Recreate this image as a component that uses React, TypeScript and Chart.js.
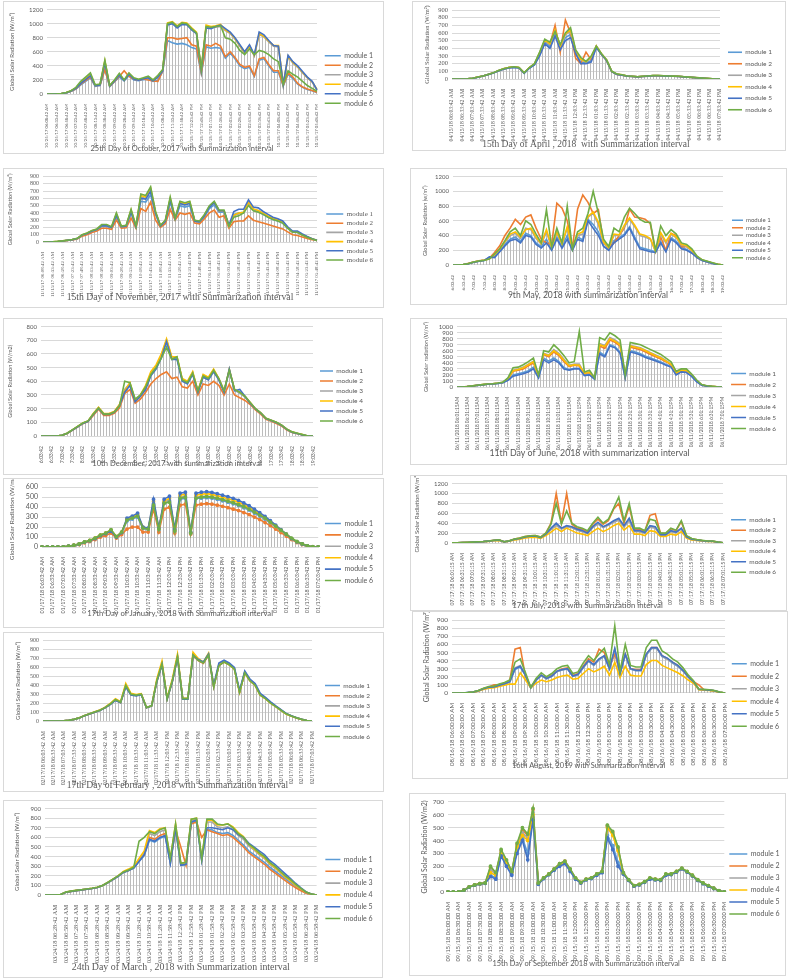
import React, { useEffect, useRef } from "react";
import { Chart, registerables } from "chart.js";
Chart.register(...registerables);

const MODULES = ["module 1", "module 2", "module 3", "module 4", "module 5", "module 6"];
const COLORS = ["#5B9BD5", "#ED7D31", "#A5A5A5", "#FFC000", "#4472C4", "#70AD47"];
const SANS = "Lato, 'Liberation Sans', sans-serif";
const SERIF = "'Liberation Serif', 'DejaVu Serif', serif";

// ---------- tick label times ----------
const times0842 = ["06:08:42 AM","06:33:42 AM","06:58:42 AM","07:23:42 AM","07:48:42 AM","08:13:42 AM","08:38:42 AM","09:03:42 AM","09:28:42 AM","09:53:42 AM","10:18:42 AM","10:43:42 AM","11:08:42 AM","11:33:42 AM","11:58:42 AM","12:23:42 PM","12:48:42 PM","01:13:42 PM","01:38:42 PM","02:03:42 PM","02:28:42 PM","02:53:42 PM","03:18:42 PM","03:43:42 PM","04:08:42 PM","04:33:42 PM","04:58:42 PM","05:23:42 PM","05:48:42 PM"];
const times0342 = ["06:03:42 AM","06:33:42 AM","07:03:42 AM","07:33:42 AM","08:03:42 AM","08:33:42 AM","09:03:42 AM","09:33:42 AM","10:03:42 AM","10:33:42 AM","11:03:42 AM","11:33:42 AM","12:03:42 PM","12:33:42 PM","01:03:42 PM","01:33:42 PM","02:03:42 PM","02:33:42 PM","03:03:42 PM","03:33:42 PM","04:03:42 PM","04:33:42 PM","05:03:42 PM","05:33:42 PM","06:03:42 PM","06:33:42 PM","07:03:42 PM"];
const hTimes = ["6:03:42","6:33:42","7:03:42","7:33:42","8:03:42","8:33:42","9:03:42","9:33:42","10:03:42","10:33:42","11:03:42","11:33:42","12:03:42","12:33:42","13:03:42","13:33:42","14:03:42","14:33:42","15:03:42","15:33:42","16:03:42","16:33:42","17:03:42","17:33:42","18:03:42","18:33:42","19:03:42"];
const junTimes = ["06:01:15AM","06:31:15AM","07:01:15AM","07:31:15AM","08:01:15AM","08:31:15AM","09:01:15AM","09:31:15AM","10:01:15AM","10:31:15AM","11:01:15AM","11:31:15AM","12:01:15PM","12:31:15PM","1:01:15PM","1:31:15PM","2:01:15PM","2:31:15PM","3:01:15PM","3:31:15PM","4:01:15PM","4:31:15PM","5:01:15PM","5:31:15PM","6:01:15PM","6:31:15PM","7:01:15PM"];
const times0115 = ["06:01:15 AM","06:31:15 AM","07:01:15 AM","07:31:15 AM","08:01:15 AM","08:31:15 AM","09:01:15 AM","09:31:15 AM","10:01:15 AM","10:31:15 AM","11:01:15 AM","11:31:15 AM","12:01:15 PM","12:31:15 PM","01:01:15 PM","01:31:15 PM","02:01:15 PM","02:31:15 PM","03:01:15 PM","03:31:15 PM","04:01:15 PM","04:31:15 PM","05:01:15 PM","05:31:15 PM","06:01:15 PM","06:31:15 PM","07:01:15 PM"];
const times0000 = ["06:00:00 AM","06:30:00 AM","07:00:00 AM","07:30:00 AM","08:00:00 AM","08:30:00 AM","09:00:00 AM","09:30:00 AM","10:00:00 AM","10:30:00 AM","11:00:00 AM","11:30:00 AM","12:00:00 PM","12:30:00 PM","01:00:00 PM","01:30:00 PM","02:00:00 PM","02:30:00 PM","03:00:00 PM","03:30:00 PM","04:00:00 PM","04:30:00 PM","05:00:00 PM","05:30:00 PM","06:00:00 PM","06:30:00 PM","07:00:00 PM"];
const times2842 = ["","06:28:42 AM","06:58:42 AM","07:28:42 AM","07:58:42 AM","08:28:42 AM","08:58:42 AM","09:28:42 AM","09:58:42 AM","10:28:42 AM","10:58:42 AM","11:28:42 AM","11:58:42 AM","12:28:42 PM","12:58:42 PM","01:28:42 PM","01:58:42 PM","02:28:42 PM","02:58:42 PM","03:28:42 PM","03:58:42 PM","04:28:42 PM","04:58:42 PM","05:28:42 PM","05:58:42 PM","06:28:42 PM","06:58:42 PM"];
const withDate = (d: string, t: string[]) => t.map((x) => (x ? d + " " + x : ""));

const octTicks = withDate("10/25/17", times0842);
const aprTicks = withDate("04/15/18", times0342);
const novTicks = withDate("11/15/17", times0842);
const mayTicks = hTimes;
const decTicks = hTimes;
const junTicks = withDate("06/11/2018", junTimes);
const janTicks = withDate("01/17/18", times0342);
const julTicks = withDate("07/17/18", times0115);
const febTicks = withDate("02/17/18", times0342);
const augTicks = withDate("08/16/18", times0000);
const marTicks = withDate("03/24/18", times2842);
const sepTicks = withDate("09/15/18", times0000);

// ---------- 25 Oct 2017 ----------
const octM1 = [0,0,2,6,16,38,70,130,180,230,110,120,350,105,175,240,190,260,200,190,205,210,180,190,320,760,730,710,720,700,660,640,290,670,650,660,650,510,580,500,400,360,380,250,480,500,400,310,310,115,280,220,140,95,65,45,20];
const octM2 = [0,0,3,7,18,40,75,140,190,240,120,125,350,110,180,250,330,250,210,195,215,200,185,180,330,800,800,780,790,800,700,680,300,700,680,720,680,530,600,520,420,380,400,260,500,520,420,330,330,120,300,240,150,100,70,50,25];
const octM3 = [0,0,3,7,19,44,82,155,215,270,120,130,460,115,190,275,195,285,215,200,220,235,190,245,335,990,1010,950,1000,990,920,860,340,950,940,950,960,900,860,780,680,580,680,540,850,810,740,680,670,130,530,440,380,300,230,170,55];
const octM4 = [0,0,3,8,20,46,88,165,225,285,125,135,470,118,195,285,195,292,222,205,225,245,195,255,345,1010,1030,970,1020,1010,940,880,360,980,960,970,990,910,870,790,690,590,690,550,860,820,750,690,690,135,540,450,390,310,235,175,65];
const octM5 = [0,0,3,7,18,42,80,150,205,260,118,128,440,112,185,270,190,280,212,198,218,230,188,240,330,980,1000,940,990,985,910,860,340,940,930,960,980,930,880,800,700,600,700,560,880,840,760,690,680,130,550,460,400,320,240,180,60];
const octM6 = [0,0,3,8,22,48,95,180,240,300,130,140,480,120,200,295,200,300,230,210,230,255,200,265,350,1000,1020,960,1010,1000,930,870,350,960,950,960,970,800,780,720,620,560,640,560,620,600,560,500,460,140,330,280,240,180,120,80,40];

// ---------- 15 Apr 2018 ----------
const aprM1 = [0,0,0,3,9,24,39,58,78,107,130,146,155,146,77,143,190,310,480,420,600,400,540,580,340,210,210,240,420,325,245,97,62,52,39,34,29,34,39,44,44,41,39,37,34,29,24,19,14,9,5,0,0];
const aprM2 = [0,0,0,3,10,25,40,60,80,108,132,148,158,148,80,145,195,320,500,450,700,350,770,600,270,200,350,250,430,320,240,95,60,50,38,33,28,33,38,42,42,40,38,36,33,28,23,18,13,8,4,0,0];
const aprM3 = [0,0,0,3,10,24,40,59,79,108,133,148,158,148,78,147,195,330,500,450,630,420,580,620,360,250,220,280,425,328,248,98,63,53,40,35,30,35,40,45,45,42,40,38,35,30,25,20,15,10,5,0,0];
const aprM4 = [0,0,0,3,10,25,40,60,80,109,134,149,159,149,79,148,198,340,510,460,640,430,590,640,370,260,225,290,428,330,250,99,64,54,40,35,30,35,40,45,45,42,40,38,35,30,25,20,15,10,5,0,0];
const aprM5 = [0,0,0,3,9,23,38,57,77,105,128,143,152,143,75,140,185,300,460,400,560,380,500,540,330,200,200,220,410,320,240,95,60,50,38,33,28,33,38,43,43,40,38,36,33,28,23,18,13,8,4,0,0];
const aprM6 = [0,0,0,3,10,25,40,60,80,110,135,150,160,150,80,150,200,350,520,480,620,450,600,670,380,280,230,300,430,330,250,100,65,55,40,35,30,35,40,45,45,42,40,38,35,30,25,20,15,10,5,0,0];

// ---------- 15 Nov 2017 ----------
const novM1 = [0,0,2,7,13,22,31,45,90,112,145,165,215,215,195,350,205,212,400,205,560,550,650,380,215,275,550,310,500,480,500,280,270,345,460,510,410,410,215,380,400,410,520,440,420,380,340,310,290,260,190,135,130,95,65,40,22];
const novM2 = [0,0,2,6,12,20,28,40,80,100,130,150,190,190,175,300,190,195,330,190,460,420,550,300,200,250,450,300,400,380,400,260,250,320,400,440,340,360,190,280,290,290,360,300,280,260,240,220,200,180,140,100,90,70,50,30,20];
const novM3 = [0,0,3,7,14,24,34,48,96,120,152,172,228,228,202,380,212,222,430,212,620,600,720,405,222,290,590,322,540,520,540,292,282,365,485,540,425,425,215,360,390,400,540,450,430,390,350,320,300,270,195,138,135,98,68,42,22];
const novM4 = [0,0,3,8,15,25,35,49,98,122,155,175,232,232,205,390,215,225,440,215,640,620,740,410,225,295,600,325,550,530,550,295,285,370,490,550,430,430,218,370,400,410,550,455,435,395,355,325,305,275,198,140,138,100,70,44,24];
const novM5 = [0,0,3,7,14,23,33,47,95,118,150,170,225,225,200,370,210,220,420,210,600,590,700,400,220,285,580,320,530,510,530,290,280,360,480,540,430,430,230,420,450,450,580,480,470,420,380,340,320,290,210,150,150,110,75,45,25];
const novM6 = [0,0,3,8,15,25,35,50,100,125,160,180,240,240,210,400,220,230,450,220,660,640,760,420,230,300,620,330,560,540,560,300,290,380,500,560,440,440,220,340,360,400,500,430,410,380,340,310,290,260,190,135,135,95,65,42,22];

// ---------- 9 May 2018 ----------
const mayM1 = [0,0,5,19,39,52,62,100,110,190,280,350,380,320,430,400,300,250,350,210,380,250,400,210,380,340,620,550,450,260,210,330,370,420,520,380,240,220,200,175,320,190,370,320,240,210,170,105,62,42,22,6,0];
const mayM2 = [0,0,5,22,42,58,68,90,170,260,400,500,620,550,650,680,500,350,300,280,840,770,600,240,760,950,850,700,750,300,230,300,400,500,760,650,640,620,560,180,380,200,430,400,250,250,200,100,65,45,25,8,0];
const mayM3 = [0,0,5,20,40,54,64,85,130,210,310,400,430,360,500,480,360,280,450,230,430,280,500,215,400,420,650,700,550,300,230,400,400,520,620,520,400,380,350,185,420,300,420,370,270,250,190,110,66,46,25,8,0];
const mayM4 = [0,0,5,20,40,55,65,85,140,215,320,420,450,380,480,500,380,290,480,240,450,290,520,220,420,450,660,720,580,310,235,420,410,540,640,540,420,400,360,190,440,320,430,380,280,260,200,115,68,48,27,9,0];
const mayM5 = [0,0,5,18,38,50,60,110,100,180,260,330,350,300,400,380,280,230,300,200,350,230,350,200,350,320,600,500,400,250,200,300,350,400,500,350,220,200,180,170,300,180,350,300,220,200,160,100,60,40,20,5,0];
const mayM6 = [0,0,5,20,40,55,65,80,150,220,330,450,500,400,600,550,420,300,750,250,500,300,800,220,450,500,700,1000,700,350,250,500,450,650,770,700,620,580,580,200,530,400,480,420,300,280,220,120,70,50,30,10,0];

// ---------- 10 Dec 2017 ----------
const decM1 = [0,0,0,0,5,20,44,68,93,108,160,205,160,160,175,225,330,380,255,295,350,450,500,580,700,570,570,410,390,460,325,440,420,480,415,325,480,335,315,285,240,198,168,128,113,98,78,48,28,18,8,0,0];
const decM2 = [0,0,0,0,5,19,42,66,90,105,150,195,150,150,165,205,310,340,240,270,320,380,420,450,470,420,430,360,350,400,300,380,370,400,370,300,380,300,280,260,230,190,160,122,108,92,72,44,26,16,8,0,0];
const decM3 = [0,0,0,0,5,20,44,69,94,109,162,207,162,162,177,226,340,385,262,298,355,460,510,590,700,575,575,415,395,465,328,445,425,485,418,328,485,338,318,288,243,199,169,129,114,99,79,49,29,19,9,0,0];
const decM4 = [0,0,0,0,5,20,45,70,95,110,165,210,165,165,180,230,330,390,260,300,370,470,520,600,710,580,580,420,400,470,330,450,430,490,420,330,490,340,320,290,245,200,170,130,115,100,80,50,30,20,10,0,0];
const decM5 = [0,0,0,0,5,19,43,67,92,107,158,203,158,158,173,222,320,370,250,290,340,440,490,570,690,560,560,400,380,450,320,430,410,470,410,320,490,330,340,290,240,198,168,128,113,98,78,48,28,18,8,0,0];
const decM6 = [0,0,0,0,5,20,45,70,95,110,160,205,160,160,175,220,400,390,270,300,360,450,500,570,650,560,580,410,390,460,330,440,420,480,420,330,480,340,320,290,245,200,170,130,115,100,80,50,30,20,10,0,0];

// ---------- 11 Jun 2018 ----------
const junM1 = [0,0,7,17,28,37,46,51,60,72,120,200,220,240,270,330,160,480,430,480,420,320,290,310,310,200,210,135,580,520,700,670,580,155,600,580,550,510,480,450,415,375,345,210,255,250,185,95,32,16,9,3,0];
const junM2 = [0,0,8,17,29,38,48,53,62,76,135,260,280,300,350,400,180,540,500,580,520,420,340,360,350,220,240,140,680,640,780,740,680,175,660,640,620,580,540,500,465,420,370,230,270,270,200,105,35,18,10,4,0];
const junM3 = [0,0,8,17,29,39,49,54,63,78,140,280,300,330,380,430,190,560,530,620,560,460,360,380,380,230,250,145,720,690,820,780,720,185,690,670,650,610,570,530,495,440,390,240,280,280,205,110,37,19,11,4,0];
const junM4 = [0,0,8,18,29,39,49,54,63,78,140,270,290,320,370,420,185,550,520,600,540,440,350,370,360,225,245,142,700,670,800,760,700,180,680,660,640,600,560,520,480,430,380,235,275,275,200,108,36,18,10,4,0];
const junM5 = [0,0,7,16,27,36,45,50,58,70,110,180,200,220,250,300,150,450,400,450,400,300,280,300,300,190,200,130,550,500,680,650,560,150,580,560,530,490,460,430,400,360,330,200,250,240,180,90,30,15,8,3,0];
const junM6 = [0,0,8,18,30,40,50,55,65,80,150,320,330,370,420,480,200,600,580,700,620,520,400,420,920,250,280,150,820,780,900,850,780,200,740,720,700,660,620,580,540,480,420,260,300,300,220,120,40,20,12,5,0];

// ---------- 17 Jan 2018 ----------
const janM1 = [0,0,0,0,2,8,17,29,49,63,87,117,137,165,102,146,260,280,300,185,175,430,175,440,460,160,480,490,140,490,490,495,490,478,464,450,434,416,394,370,340,310,278,240,200,162,122,82,50,28,9,2,0];
const janM2 = [0,0,0,0,2,7,15,25,42,55,75,100,115,140,90,125,180,200,200,150,150,380,150,380,400,140,420,430,130,420,430,435,430,420,408,395,380,365,345,325,300,275,245,215,180,145,110,75,45,25,8,2,0];
const janM3 = [0,0,0,0,2,8,18,29,49,64,88,118,138,168,103,147,270,290,320,190,180,440,180,450,470,165,500,510,140,500,505,510,505,492,478,463,447,428,405,380,350,318,285,246,206,166,126,85,52,30,10,2,0];
const janM4 = [0,0,0,0,2,8,18,30,50,65,90,120,140,170,105,150,280,300,330,200,185,460,185,460,490,170,520,530,145,520,530,535,528,515,500,485,468,448,424,396,364,330,295,255,212,170,128,85,52,30,10,2,0];
const janM5 = [0,0,0,0,2,8,17,28,48,62,85,115,135,160,100,145,290,310,340,200,190,480,190,480,510,180,540,550,150,540,550,555,548,535,520,505,488,468,442,414,380,345,308,265,220,175,130,85,52,30,10,2,0];
const janM6 = [0,0,0,0,2,8,18,30,50,65,90,120,140,175,105,150,270,290,310,190,180,420,180,440,450,160,490,500,140,490,500,505,500,490,475,460,445,425,405,380,350,320,290,250,210,170,130,90,55,32,12,3,0];

// ---------- 17 Jul 2018 ----------
const julM1 = [5,5,8,11,17,23,28,37,51,59,23,41,74,90,118,132,138,108,175,290,380,290,340,320,270,240,195,320,400,320,370,430,480,340,480,240,240,205,340,320,165,165,240,215,290,120,72,58,46,34,34,16,5];
const julM2 = [5,5,8,12,18,25,30,40,55,65,25,45,80,100,130,145,150,120,200,400,1000,400,1000,380,300,280,230,380,480,380,450,680,800,400,740,280,280,240,560,590,200,190,290,250,430,140,85,65,50,38,38,18,5];
const julM3 = [5,5,8,11,16,22,27,35,50,58,22,40,70,88,115,128,134,105,170,270,350,280,330,310,260,230,190,310,380,310,360,420,460,320,450,230,230,200,320,300,160,160,230,210,280,115,70,56,45,33,33,16,5];
const julM4 = [4,4,7,10,15,20,25,32,45,52,20,36,60,75,100,110,115,95,150,220,300,230,300,250,200,180,150,230,300,230,280,350,400,260,350,180,180,150,250,230,130,130,180,160,230,100,60,50,40,30,30,15,4];
const julM5 = [5,5,8,11,17,23,28,37,52,60,23,42,75,92,120,135,140,110,180,300,400,300,350,330,280,250,200,330,420,330,380,450,500,350,500,250,250,210,350,330,170,170,250,220,300,125,75,60,47,35,35,17,5];
const julM6 = [5,5,8,12,18,25,30,40,55,65,25,45,80,100,130,145,150,120,200,380,800,380,650,400,330,300,250,400,520,400,480,700,930,450,800,300,300,250,480,450,200,200,300,260,450,150,90,70,55,40,40,20,5];

// ---------- 17 Feb 2018 ----------
const febM1 = [0,0,0,0,2,8,18,35,60,80,100,120,150,190,238,208,395,298,288,298,150,170,445,635,250,445,715,250,250,735,680,650,740,385,630,670,640,590,330,550,460,410,300,258,208,165,124,82,56,36,18,6,0];
const febM2 = [0,0,0,0,2,8,18,35,59,79,99,119,149,188,236,207,390,295,285,296,149,169,440,630,248,440,710,248,248,730,675,645,735,380,620,660,630,580,320,540,450,400,290,250,200,160,120,80,55,35,18,6,0];
const febM3 = [0,0,0,0,2,8,18,35,60,80,100,120,150,190,240,210,400,300,290,300,150,170,450,645,250,450,725,250,250,745,685,655,745,385,625,665,635,585,325,545,455,405,295,255,205,162,122,81,56,35,18,6,0];
const febM4 = [0,0,0,0,2,8,19,36,62,82,103,124,155,196,250,215,420,310,295,305,152,172,470,670,255,470,750,255,255,770,700,660,760,390,630,660,630,580,320,540,450,400,290,250,200,160,118,78,53,34,17,5,0];
const febM5 = [0,0,0,0,2,8,18,34,58,78,98,118,148,185,230,205,380,290,280,295,148,168,440,630,245,440,710,245,245,735,690,660,750,400,650,680,650,600,340,560,470,420,310,265,215,170,128,85,58,37,19,6,0];
const febM6 = [0,0,0,0,2,8,18,35,60,80,100,120,150,190,240,210,400,300,290,300,150,170,450,640,250,450,720,250,250,740,680,650,740,380,620,660,630,580,320,540,450,400,290,250,200,160,120,80,55,35,18,6,0];

// ---------- 16 Aug ----------
const augM1 = [0,0,0,5,11,26,50,68,73,92,112,135,290,320,215,64,155,215,175,205,265,285,295,205,225,310,390,340,410,450,295,530,235,470,295,275,275,470,550,550,450,420,370,330,270,195,135,44,39,35,26,10,0];
const augM2 = [0,0,0,5,12,28,55,75,100,100,120,150,540,560,200,70,160,220,180,220,270,300,310,220,240,330,420,380,540,500,320,480,260,480,300,290,290,480,560,560,460,420,380,340,280,200,140,100,40,35,28,10,0];
const augM3 = [0,0,0,5,11,26,52,70,74,94,114,138,310,340,220,65,158,218,178,208,268,288,298,208,228,315,395,345,415,455,298,540,238,475,298,278,278,475,555,555,455,425,375,335,275,198,138,45,40,36,27,10,0];
const augM4 = [0,0,0,4,10,22,45,60,65,80,95,110,110,250,160,60,120,160,140,160,190,210,220,170,180,240,300,260,290,330,220,380,190,330,220,210,210,350,400,400,340,310,280,250,210,160,120,40,35,30,22,8,0];
const augM5 = [0,0,0,5,11,27,52,70,75,95,115,140,300,330,220,65,160,220,180,210,270,290,300,210,230,320,400,350,420,460,300,550,240,480,300,280,280,480,560,560,460,430,380,340,280,200,140,45,40,36,27,10,0];
const augM6 = [0,0,0,5,12,30,60,80,85,110,130,160,380,420,250,70,180,250,200,240,300,330,340,240,260,370,460,400,480,550,350,830,270,600,340,320,320,560,650,650,520,480,420,380,310,220,150,50,45,40,30,12,0];

// ---------- 24 Mar 2018 ----------
const marM1 = [0,0,0,5,28,38,46,53,60,68,78,98,128,160,194,234,254,282,350,410,570,550,590,610,330,680,310,315,750,770,360,680,680,650,640,650,620,570,520,460,420,380,340,290,250,210,170,130,90,55,22,7,0];
const marM2 = [0,0,0,5,28,38,46,53,60,68,78,98,128,162,196,236,256,290,360,420,600,580,620,640,350,680,500,310,740,760,600,680,660,640,620,630,600,550,500,440,400,360,320,270,230,190,150,110,75,45,18,6,0];
const marM3 = [0,0,0,5,29,39,47,54,61,69,79,99,129,163,198,238,258,285,360,440,640,620,660,680,360,720,320,330,770,790,370,760,760,710,700,710,680,620,580,510,470,420,380,320,280,235,185,145,100,65,28,9,0];
const marM4 = [0,0,0,5,30,40,48,55,62,70,80,100,130,165,200,245,270,300,380,460,670,650,690,700,380,740,330,340,790,800,380,780,780,730,730,740,710,650,610,530,480,430,390,330,290,240,190,150,100,65,28,9,0];
const marM5 = [0,0,0,5,28,38,46,53,60,68,78,98,128,160,195,235,255,280,350,420,580,560,600,620,330,700,310,320,760,780,360,700,700,690,680,700,680,630,600,540,500,460,420,360,320,270,220,170,120,75,32,10,0];
const marM6 = [0,0,0,5,30,40,48,55,62,70,80,100,130,165,200,240,260,290,560,600,660,640,680,700,380,740,330,340,790,800,380,790,790,740,730,740,700,640,600,530,490,440,400,340,300,250,200,160,110,70,30,10,0];

// ---------- 15 Sep 2018 ----------
const sepM1 = [0,0,0,14,38,53,63,68,130,110,290,210,140,320,420,300,580,62,105,135,172,205,225,165,102,71,96,106,132,152,440,360,230,142,91,46,56,76,102,96,91,132,136,156,181,156,126,91,66,46,27,9,0];
const sepM2 = [0,0,0,15,40,55,65,70,190,145,320,245,158,370,480,440,640,68,110,140,180,220,240,178,108,74,100,110,140,158,515,460,340,148,94,49,59,79,108,99,94,139,140,160,184,159,129,94,69,49,29,9,0];
const sepM3 = [0,0,0,15,39,54,64,69,170,140,310,235,155,360,460,420,620,67,108,138,176,212,232,172,106,73,98,108,136,156,510,450,330,146,93,48,58,78,106,98,93,137,138,158,183,158,128,93,68,48,29,9,0];
const sepM4 = [0,0,0,15,40,55,65,70,150,130,300,230,150,350,440,400,600,65,108,138,175,210,230,170,105,72,98,108,135,155,500,440,320,145,92,48,58,78,105,98,92,135,138,158,182,158,128,92,68,48,28,9,0];
const sepM5 = [0,0,0,14,38,53,63,68,120,100,280,200,130,300,400,250,560,60,105,135,170,200,220,160,100,70,95,105,130,150,420,330,200,140,90,45,55,75,100,95,90,130,135,155,180,155,125,90,65,45,27,9,0];
const sepM6 = [0,0,0,15,40,55,65,70,200,150,330,250,160,380,500,450,650,70,110,140,180,220,240,180,110,75,100,110,140,160,520,470,350,150,95,50,60,80,110,100,95,140,140,160,185,160,130,95,70,50,30,10,0];

type F = { family: string; size: number };
type Panel = {
  box: number[]; plot: number[]; yTitleX: number; xTitleY: number; legendX: number; legendMid: number;
  ymax: number; ystep: number; ticks: string[]; series: number[][]; title: string; yTitle: string;
  fx: F; fy: F; fyt: F; ft: F; fl: F; lp: number; ll: number; markers?: boolean;
};
const f = (family: string, size: number): F => ({ family, size });

const PANELS: Panel[] = [
  { box: [3, 1, 381, 153], plot: [47, 6, 317, 94], yTitleX: 12, xTitleY: 149, legendX: 325, legendMid: 79.5, ymax: 1200, ystep: 200,
    ticks: octTicks, series: [octM1, octM2, octM3, octM4, octM5, octM6], title: "25th Day of October, 2017 with Summarization interval", yTitle: "Global Solar Radiation (W/m²)",
    fx: f(SANS, 4.2), fy: f(SANS, 6), fyt: f(SANS, 6), ft: f(SANS, 7.5), fl: f(SANS, 7), lp: 2.5, ll: 16 },
  { box: [412, 1, 374, 150], plot: [452, 10, 720, 79], yTitleX: 427, xTitleY: 147, legendX: 728, legendMid: 81, ymax: 900, ystep: 100,
    ticks: aprTicks, series: [aprM1, aprM2, aprM3, aprM4, aprM5, aprM6], title: "15th Day of April , 2018  with Summarization interval", yTitle: "Global Solar Radiation (W/m²)",
    fx: f(SERIF, 5.7), fy: f(SERIF, 6.5), fyt: f(SERIF, 6.3), ft: f(SERIF, 9.5), fl: f(SANS, 6.5), lp: 5, ll: 14 },
  { box: [3, 168, 381, 140], plot: [43, 174, 317, 242], yTitleX: 10, xTitleY: 297, legendX: 328, legendMid: 237, ymax: 900, ystep: 100,
    ticks: novTicks, series: [novM1, novM2, novM3, novM4, novM5, novM6], title: "15th Day of November, 2017 with Summarization interval", yTitle: "Global Solar Radiation (W/m²)",
    fx: f(SERIF, 4.9), fy: f(SERIF, 6), fyt: f(SANS, 5.5), ft: f(SERIF, 9.7), fl: f(SERIF, 7), lp: 2.2, ll: 17 },
  { box: [410, 168, 377, 137], plot: [453, 174, 723, 265], yTitleX: 425, xTitleY: 295, legendX: 732, legendMid: 239, ymax: 1200, ystep: 200,
    ticks: mayTicks, series: [mayM1, mayM2, mayM3, mayM4, mayM5, mayM6], title: "9th May, 2018 with summarization interval", yTitle: "Global Solar Radiation (w/m²)",
    fx: f(SANS, 4.6), fy: f(SANS, 6), fyt: f(SANS, 5.5), ft: f(SANS, 8.5), fl: f(SANS, 6), lp: 1.5, ll: 11 },
  { box: [3, 318, 380, 157], plot: [41, 324, 313, 436], yTitleX: 10, xTitleY: 464, legendX: 320, legendMid: 396, ymax: 800, ystep: 100,
    ticks: decTicks, series: [decM1, decM2, decM3, decM4, decM5, decM6], title: "10th December, 2017 with summarization imterval", yTitle: "Global Solar Radiation (W/m2)",
    fx: f(SANS, 5.1), fy: f(SANS, 6), fyt: f(SANS, 5.5), ft: f(SANS, 7.6), fl: f(SANS, 6.5), lp: 3.5, ll: 13 },
  { box: [410, 318, 377, 147], plot: [457, 325, 722, 387], yTitleX: 426, xTitleY: 453, legendX: 735, legendMid: 401, ymax: 1000, ystep: 100,
    ticks: junTicks, series: [junM1, junM2, junM3, junM4, junM5, junM6], title: "11th Day of June, 2018 with summarization interval", yTitle: "Global Solar radiation (W/m²)",
    fx: f(SANS, 4.7), fy: f(SANS, 6.2), fyt: f(SANS, 5.5), ft: f(SANS, 8.8), fl: f(SANS, 6.5), lp: 4.5, ll: 15 },
  { box: [3, 478, 381, 150], plot: [42, 485, 318, 547], yTitleX: 12, xTitleY: 614, legendX: 327, legendMid: 552, ymax: 600, ystep: 100,
    ticks: janTicks, series: [janM1, janM2, janM3, janM4, janM5, janM6], title: "17th Day of January, 2018 with Summarization interval", yTitle: "Global Solar Radiation (W/m2)",
    fx: f(SANS, 5.4), fy: f(SANS, 7), fyt: f(SANS, 6.5), ft: f(SANS, 7.7), fl: f(SANS, 7), lp: 4.4, ll: 16, markers: true },
  { box: [410, 475, 377, 136], plot: [452, 482, 723, 543], yTitleX: 417, xTitleY: 605, legendX: 735, legendMid: 546, ymax: 1200, ystep: 200,
    ticks: julTicks, series: [julM1, julM2, julM3, julM4, julM5, julM6], title: "17th July, 2018 with Summarization interval", yTitle: "Global Solar Radiation (W/m²)",
    fx: f(SANS, 5), fy: f(SANS, 6), fyt: f(SANS, 6), ft: f(SANS, 7.8), fl: f(SANS, 6.5), lp: 4, ll: 15 },
  { box: [3, 632, 381, 160], plot: [43, 637, 312, 721], yTitleX: 18, xTitleY: 788, legendX: 325, legendMid: 711, ymax: 900, ystep: 100,
    ticks: febTicks, series: [febM1, febM2, febM3, febM4, febM5, febM6], title: "17th Day of February , 2018 with Summarization interval", yTitle: "Global Solar Radiation (W/m²)",
    fx: f(SERIF, 5.9), fy: f(SERIF, 6), fyt: f(SANS, 6), ft: f(SERIF, 9.6), fl: f(SANS, 6.5), lp: 3.7, ll: 15 },
  { box: [412, 611, 376, 168], plot: [452, 620, 723, 693], yTitleX: 427, xTitleY: 766, legendX: 735, legendMid: 695, ymax: 900, ystep: 100,
    ticks: augTicks, series: [augM1, augM2, augM3, augM4, augM5, augM6], title: "16th August, 2019 with Summarization interval", yTitle: "Global Solar Radiation (W/m²)",
    fx: f(SANS, 6), fy: f(SANS, 6.5), fyt: f(SANS, 7), ft: f(SANS, 7.4), fl: f(SANS, 7), lp: 5.5, ll: 15 },
  { box: [3, 800, 380, 178], plot: [45, 808, 316, 895], yTitleX: 17, xTitleY: 967, legendX: 328, legendMid: 889, ymax: 900, ystep: 100,
    ticks: marTicks, series: [marM1, marM2, marM3, marM4, marM5, marM6], title: "24th Day of March , 2018 with Summarization interval", yTitle: "Global Solar Radiation (W/m²)",
    fx: f(SERIF, 6.3), fy: f(SANS, 6), fyt: f(SANS, 6), ft: f(SERIF, 9.9), fl: f(SANS, 7), lp: 4.8, ll: 15 },
  { box: [409, 793, 377, 183], plot: [448, 801, 721, 892], yTitleX: 425, xTitleY: 964, legendX: 732, legendMid: 884, ymax: 700, ystep: 100,
    ticks: sepTicks, series: [sepM1, sepM2, sepM3, sepM4, sepM5, sepM6], title: "15th Day of September 2018 with Summarization interval", yTitle: "Global Solar Radiation (W/m2)",
    fx: f(SANS, 5.7), fy: f(SANS, 6.5), fyt: f(SANS, 7), ft: f(SANS, 7.4), fl: f(SANS, 7), lp: 5, ll: 18, markers: true },
];

const TXT = "#595959";
const GRID = "#d9d9d9";
const LINE_W = 1.6;

function buildLabels(ticks: string[], n: number): string[] {
  const per = (n - 1) / (ticks.length - 1);
  const out: string[] = [];
  for (let i = 0; i < n; i++) out.push(i % per === 0 ? ticks[i / per] : "");
  return out;
}

function ChartPanel({ p }: { p: Panel }) {
  const ref = useRef<HTMLCanvasElement>(null);
  const [bx, by, bw, bh] = p.box;
  const cl = bx + 1, ct = by + 1, cw = bw - 2, ch = bh - 2;
  useEffect(() => {
    const canvas = ref.current as HTMLCanvasElement;
    const ctx = canvas.getContext("2d") as CanvasRenderingContext2D;
    const pc = document.createElement("canvas");
    pc.width = 3; pc.height = 1;
    const pctx = pc.getContext("2d") as CanvasRenderingContext2D;
    pctx.fillStyle = "#bcbcbc";
    pctx.fillRect(0, 0, 1, 1);
    const pattern = ctx.createPattern(pc, "repeat");

    const [pl, pt, pr, pb] = p.plot;
    const yLh = p.fyt.size * 1.2;
    const xLh = p.ft.size * 1.2;
    const padLeft = Math.max(0, p.yTitleX - cl - yLh / 2);
    const yW = pl - cl - padLeft;
    const padTop = pt - ct;
    const padBottom = Math.max(0, ct + ch - p.xTitleY - xLh / 2);
    const xH = ct + ch - padBottom - pb;
    const fs = p.fl.size;
    // natural legend width (as Chart.js computes it)
    ctx.font = `${fs}px ${p.fl.family}`;
    let maxText = 0;
    MODULES.forEach((m) => { maxText = Math.max(maxText, ctx.measureText(m).width); });
    const legendW = p.lp + p.ll + fs / 2 + maxText + 10;
    let gap = Math.max(0, p.legendX - pr - p.lp);
    let padRight = cw - (pr - cl) - gap - legendW;
    if (padRight < 0) { gap = Math.max(0, gap + padRight); padRight = 0; }
    const firstTop = p.legendMid - ct - 2.5 * (fs + p.lp) - fs / 2;
    const titlePadTop = Math.max(0, firstTop - padTop - p.lp - 1.2);

    const n = p.series[0].length;
    const labels = buildLabels(p.ticks, n);

    const chart = new Chart(canvas, {
      type: "line",
      data: {
        labels,
        datasets: p.series.map((d, i) => ({
          label: MODULES[i],
          data: d,
          borderColor: COLORS[i],
          backgroundColor: i === 2 ? (pattern as any) : COLORS[i],
          borderWidth: LINE_W,
          pointRadius: p.markers ? 1.1 : 0,
          pointBackgroundColor: COLORS[i],
          pointBorderColor: COLORS[i],
          pointBorderWidth: LINE_W,
          fill: i === 2 ? "origin" : false,
          tension: 0,
          order: 5 - i,
        })),
      },
      options: {
        responsive: false,
        animation: false,
        events: [],
        layout: { padding: { left: padLeft, top: padTop, right: padRight, bottom: padBottom } },
        plugins: {
          filler: { drawTime: "beforeDatasetsDraw" },
          tooltip: { enabled: false },
          legend: {
            position: "right",
            align: "start",
            title: { display: true, text: " ", font: { size: 1 }, padding: { top: titlePadTop, bottom: 0 } },
            labels: {
              usePointStyle: true,
              pointStyle: "line",
              pointStyleWidth: p.ll,
              padding: p.lp,
              font: { family: p.fl.family, size: p.fl.size },
              color: TXT,
              sort: (a: any, b: any) => a.datasetIndex - b.datasetIndex,
            },
          },
        },
        scales: {
          x: {
            type: "category",
            grid: { display: false },
            border: { display: true, color: GRID },
            ticks: {
              autoSkip: false, minRotation: 90, maxRotation: 90, padding: 2,
              font: { family: p.fx.family, size: p.fx.size }, color: TXT,
              callback: (_v: any, i: number) => labels[i],
            },
            title: { display: true, text: p.title, font: { family: p.ft.family, size: p.ft.size }, color: TXT, padding: 0 },
            afterFit: (s: any) => { s.height = xH; },
          },
          y: {
            type: "linear",
            min: 0, max: p.ymax,
            grid: { color: GRID, drawTicks: false },
            border: { display: false },
            ticks: { stepSize: p.ystep, autoSkip: false, padding: 4, font: { family: p.fy.family, size: p.fy.size }, color: TXT,
              callback: (v: any) => String(v) },
            title: { display: true, text: p.yTitle, font: { family: p.fyt.family, size: p.fyt.size }, color: TXT, padding: 0 },
            afterFit: (s: any) => { s.width = yW; },
          },
          gap: {
            type: "linear",
            position: "right",
            display: true,
            grid: { display: false },
            border: { display: false },
            ticks: { display: false },
            afterFit: (s: any) => { s.width = gap; },
          },
        },
      } as any,
    });
    return () => chart.destroy();
  }, []);
  return (
    <div style={{ position: "absolute", left: bx, top: by, width: bw, height: bh, border: "1px solid #d9d9d9", boxSizing: "border-box", background: "#fff" }}>
      <canvas ref={ref} width={cw} height={ch} style={{ display: "block", width: cw, height: ch }} />
    </div>
  );
}

export default function App() {
  return (
    <div style={{ position: "absolute", left: 0, top: 0, width: 789, height: 979, background: "#fff", overflow: "hidden" }}>
      {PANELS.map((p, i) => (
        <ChartPanel key={i} p={p} />
      ))}
    </div>
  );
}
